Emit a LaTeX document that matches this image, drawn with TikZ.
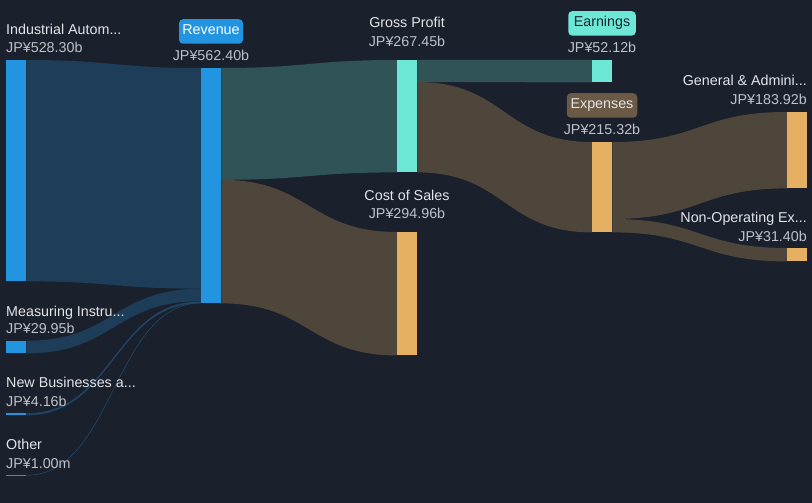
\documentclass[tikz,border=0pt]{standalone}
\usepackage{fontspec}
\setmainfont{Liberation Sans}
\usetikzlibrary{calc}
\definecolor{bg}{HTML}{1B202D}
\definecolor{cblue}{HTML}{2394E0}
\definecolor{cteal}{HTML}{6EE8D6}
\definecolor{corange}{HTML}{E6B062}
\definecolor{fblue}{HTML}{1E3D58}
\definecolor{fblueline}{HTML}{214768}
\definecolor{fteal}{HTML}{2F5357}
\definecolor{fbrown}{HTML}{4E463B}
\definecolor{boxbrown}{HTML}{6B5A45}
\definecolor{labc}{HTML}{E3E5E9}
\definecolor{valc}{HTML}{BEC2C9}
\newcommand\sflow[5]{%
  \fill[#5] let \p1=(#1), \p2=(#2), \p3=(#3), \p4=(#4), \n1={(\x1+\x3)/2} in
    (\p1) .. controls (\n1,\y1) and (\n1,\y3) .. (\p3) -- (\p4)
    .. controls (\n1,\y4) and (\n1,\y2) .. (\p2) -- cycle;}
\newcommand\sline[3]{%
  \draw[#3] let \p1=(#1), \p3=(#2), \n1={(\x1+\x3)/2} in
    (\p1) .. controls (\n1,\y1) and (\n1,\y3) .. (\p3);}
\begin{document}
\begin{tikzpicture}[x=1pt,y=-1pt,font=\fontsize{14.3}{16}\selectfont,
  bar/.style={draw=none,inner sep=0pt,minimum width=20pt,anchor=north west},
  lab/.style={text=labc,inner sep=0pt},
  val/.style={text=valc,inner sep=0pt},
  tagbox/.style={rounded corners=4pt,inner sep=0pt,text height=10pt,text depth=3pt,minimum height=24.5pt}]
\fill[bg] (0,0) rectangle (812,503);
\useasboundingbox (0,0) rectangle (812,503);
% bars
\node[bar,fill=cblue,minimum height=221pt] (ind) at (6,60) {};
\node[bar,fill=cblue,minimum height=12.3pt] (meas) at (6,340.7) {};
\node[bar,fill=cblue,minimum height=1.8pt] (newb) at (6,413.2) {};
\node[bar,fill=cblue,minimum height=1pt] (oth) at (6,474.6) {};
\node[bar,fill=cblue,minimum height=235pt] (rev) at (201,68) {};
\node[bar,fill=cteal,minimum height=112pt] (gp) at (397,60) {};
\node[bar,fill=corange,minimum height=123pt] (cos) at (397,232) {};
\node[bar,fill=cteal,minimum height=22pt] (earn) at (592,60) {};
\node[bar,fill=corange,minimum height=90pt] (exp) at (592,142) {};
\node[bar,fill=corange,minimum height=76pt] (ga) at (787,112) {};
\node[bar,fill=corange,minimum height=13pt] (nop) at (787,248) {};
% split points
\coordinate (rA) at ($(rev.north west)+(0,220.7)$);
\coordinate (rB) at ($(rev.north west)+(0,233.2)$);
\coordinate (rC) at ($(rev.north west)+(0,234.6)$);
\coordinate (rS) at ($(rev.north east)+(0,111.8)$);
\coordinate (gS) at ($(gp.north east)+(0,22)$);
\coordinate (eS) at ($(exp.north east)+(0,77)$);
\coordinate (newbM) at ($(newb.north east)!0.5!(newb.south east)$);
\coordinate (othM) at ($(oth.north east)!0.5!(oth.south east)$);
\coordinate (rBC) at ($(rB)!0.5!(rev.south west)$);
\coordinate (rCD) at ($(rC)!0.5!(rev.south west)$);
% flows
\sflow{ind.north east}{ind.south east}{rev.north west}{rA}{fblue}
\sflow{meas.north east}{meas.south east}{rA}{rB}{fblue}
\sflow{newb.north east}{newb.south east}{rB}{rev.south west}{fblue}
\sline{newbM}{rBC}{fblueline,line width=0.8pt}
\sline{othM}{rCD}{fblueline,line width=0.6pt}
\sflow{rev.north east}{rS}{gp.north west}{gp.south west}{fteal}
\sflow{rS}{rev.south east}{cos.north west}{cos.south west}{fbrown}
\sflow{gp.north east}{gS}{earn.north west}{earn.south west}{fteal}
\sflow{gS}{gp.south east}{exp.north west}{exp.south west}{fbrown}
\sflow{exp.north east}{eS}{ga.north west}{ga.south west}{fbrown}
\sflow{eS}{exp.south east}{nop.north west}{nop.south west}{fbrown}
% redraw bars on top
\foreach \b/\c in {ind/cblue,meas/cblue,newb/cblue,oth/cblue,rev/cblue,gp/cteal,cos/corange,earn/cteal,exp/corange,ga/corange,nop/corange}
  \fill[\c] (\b.north west) rectangle (\b.south east);
% left labels
\node[lab,anchor=base west] (tind) at (6,34.7) {Industrial Autom...};
\node[val,anchor=base west] (vind) at (6,52.7) {JP¥528.30b};
\node[lab,anchor=base west] (tmeas) at (6,316) {Measuring Instru...};
\node[val,anchor=base west] (vmeas) at (6,333.3) {JP¥29.95b};
\node[lab,anchor=base west] (tnewb) at (6,387) {New Businesses a...};
\node[val,anchor=base west] (vnewb) at (6,406) {JP¥4.16b};
\node[lab,anchor=base west] (toth) at (6,449) {Other};
\node[val,anchor=base west] (voth) at (6,468.5) {JP¥1.00m};
% revenue
\node[tagbox,fill=cblue,text=white,minimum width=64pt] (trev) at (211,31.5) {Revenue};
\node[val,anchor=base] (vrev) at (211,60.7) {JP¥562.40b};
% gross profit / cost of sales
\node[lab,anchor=base] (tgp) at (407,28) {Gross Profit};
\node[val,anchor=base] (vgp) at (407,47) {JP¥267.45b};
\node[lab,anchor=base] (tcos) at (407,200) {Cost of Sales};
\node[val,anchor=base] (vcos) at (407,218.3) {JP¥294.96b};
% earnings / expenses
\node[tagbox,fill=cteal,text=bg,minimum width=67.5pt] (tearn) at (602,23.4) {Earnings};
\node[val,anchor=base] (vearn) at (602,52.7) {JP¥52.12b};
\node[tagbox,fill=boxbrown,text=labc,minimum width=70.5pt] (texp) at (602,105.5) {Expenses};
\node[val,anchor=base] (vexp) at (602,134.3) {JP¥215.32b};
% right labels
\node[lab,anchor=base east] (tga) at (807,85) {General \& Admini...};
\node[val,anchor=base east] (vga) at (807,104.3) {JP¥183.92b};
\node[lab,anchor=base east] (tnop) at (807,222) {Non-Operating Ex...};
\node[val,anchor=base east] (vnop) at (807,241) {JP¥31.40b};
\end{tikzpicture}
\end{document}
